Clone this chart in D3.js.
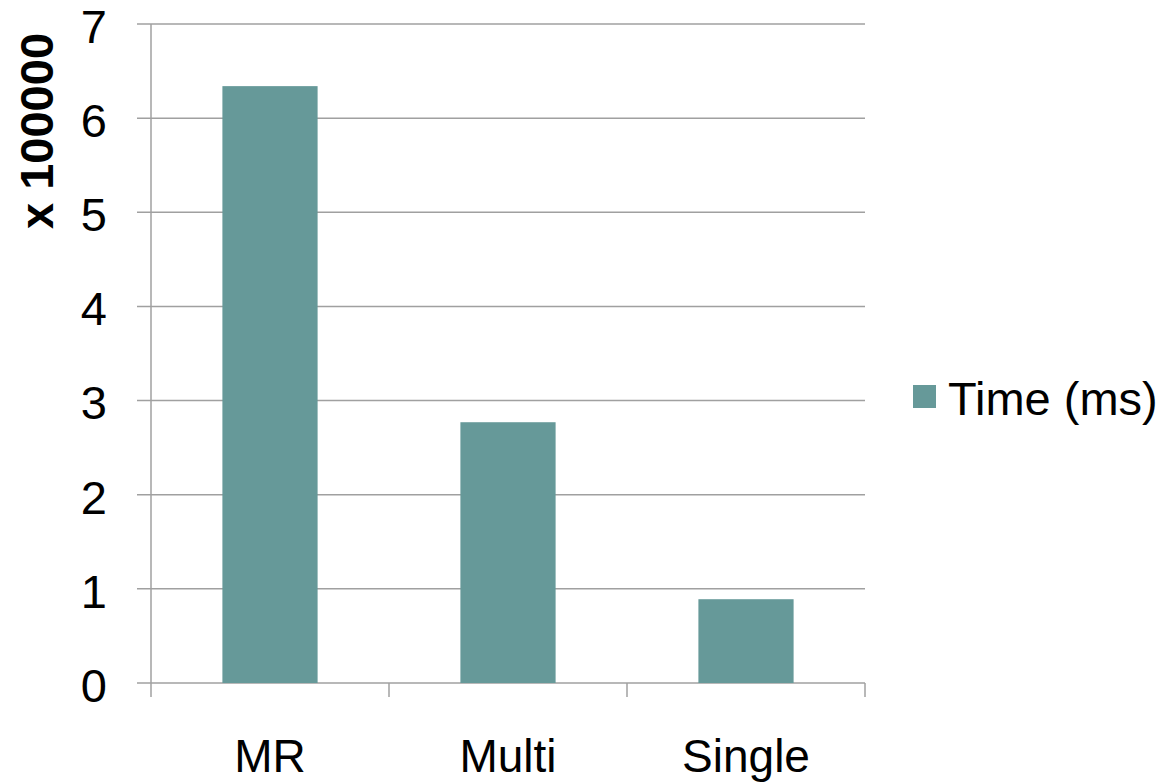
<!DOCTYPE html>
<html>
<head>
<meta charset="utf-8">
<script src="https://cdn.jsdelivr.net/npm/d3@7"></script>
<style>
  html, body { margin: 0; padding: 0; background: #fff; }
  svg { display: block; font-family: "Liberation Sans", Arial, sans-serif; }
</style>
</head>
<body>
<svg id="chart" width="1168" height="782"></svg>
<script>
// Chart data
const categories = ["MR", "Multi", "Single"];
const timeValues = [6.34, 2.77, 0.89];
const yTicks = [0, 1, 2, 3, 4, 5, 6, 7];
const seriesName = "Time (ms)";
const axisTitle = "x 100000";

const svg = d3.select("#chart");
const plot = { left: 151, right: 865, top: 24, bottom: 683 };
const barColor = "#669999";
const gridColor = "#a0a0a0";

const x = d3.scaleBand().domain(categories).range([plot.left, plot.right]).padding(0);
const y = d3.scaleLinear().domain([0, 7]).range([plot.bottom, plot.top]);

// Horizontal gridlines with short ticks left of the axis
svg.append("g").selectAll("line").data(yTicks).join("line")
  .attr("x1", plot.left - 14).attr("x2", plot.right)
  .attr("y1", d => y(d)).attr("y2", d => y(d))
  .attr("stroke", gridColor).attr("stroke-width", 1.5);

// Vertical value axis
svg.append("line")
  .attr("x1", plot.left).attr("x2", plot.left)
  .attr("y1", plot.top).attr("y2", plot.bottom)
  .attr("stroke", gridColor).attr("stroke-width", 1.5);

// Category separator ticks below the baseline
const sepX = categories.map(c => x(c)).concat([plot.right]);
svg.append("g").selectAll("line").data(sepX).join("line")
  .attr("x1", d => d).attr("x2", d => d)
  .attr("y1", plot.bottom).attr("y2", plot.bottom + 14)
  .attr("stroke", gridColor).attr("stroke-width", 1.5);

// Bars
const barW = x.bandwidth() * 0.4;
svg.append("g").selectAll("rect").data(categories).join("rect")
  .attr("x", c => x(c) + (x.bandwidth() - barW) / 2)
  .attr("width", barW)
  .attr("y", (c, i) => y(timeValues[i]))
  .attr("height", (c, i) => y(0) - y(timeValues[i]))
  .attr("fill", barColor);

// Value tick labels
svg.append("g").selectAll("text").data(yTicks).join("text")
  .attr("x", 107).attr("y", d => y(d)).attr("dy", "0.4em")
  .attr("text-anchor", "end")
  .attr("font-size", 47).attr("fill", "#000")
  .text(d => d);

// Category labels
svg.append("g").selectAll("text").data(categories).join("text")
  .attr("x", c => x(c) + x.bandwidth() / 2).attr("y", 772)
  .attr("text-anchor", "middle")
  .attr("font-size", 46).attr("fill", "#000")
  .text(c => c);

// Axis title
svg.append("text")
  .attr("transform", "translate(53,229) rotate(-90)")
  .attr("text-anchor", "start")
  .attr("font-size", 47).attr("font-weight", "bold").attr("fill", "#000")
  .text(axisTitle);

// Legend
const legend = svg.append("g").attr("transform", "translate(913,385)");
legend.append("rect").attr("width", 23).attr("height", 23).attr("fill", barColor);
legend.append("text").attr("x", 35).attr("y", 30)
  .attr("font-size", 47).attr("fill", "#000")
  .text(seriesName);
</script>
</body>
</html>
